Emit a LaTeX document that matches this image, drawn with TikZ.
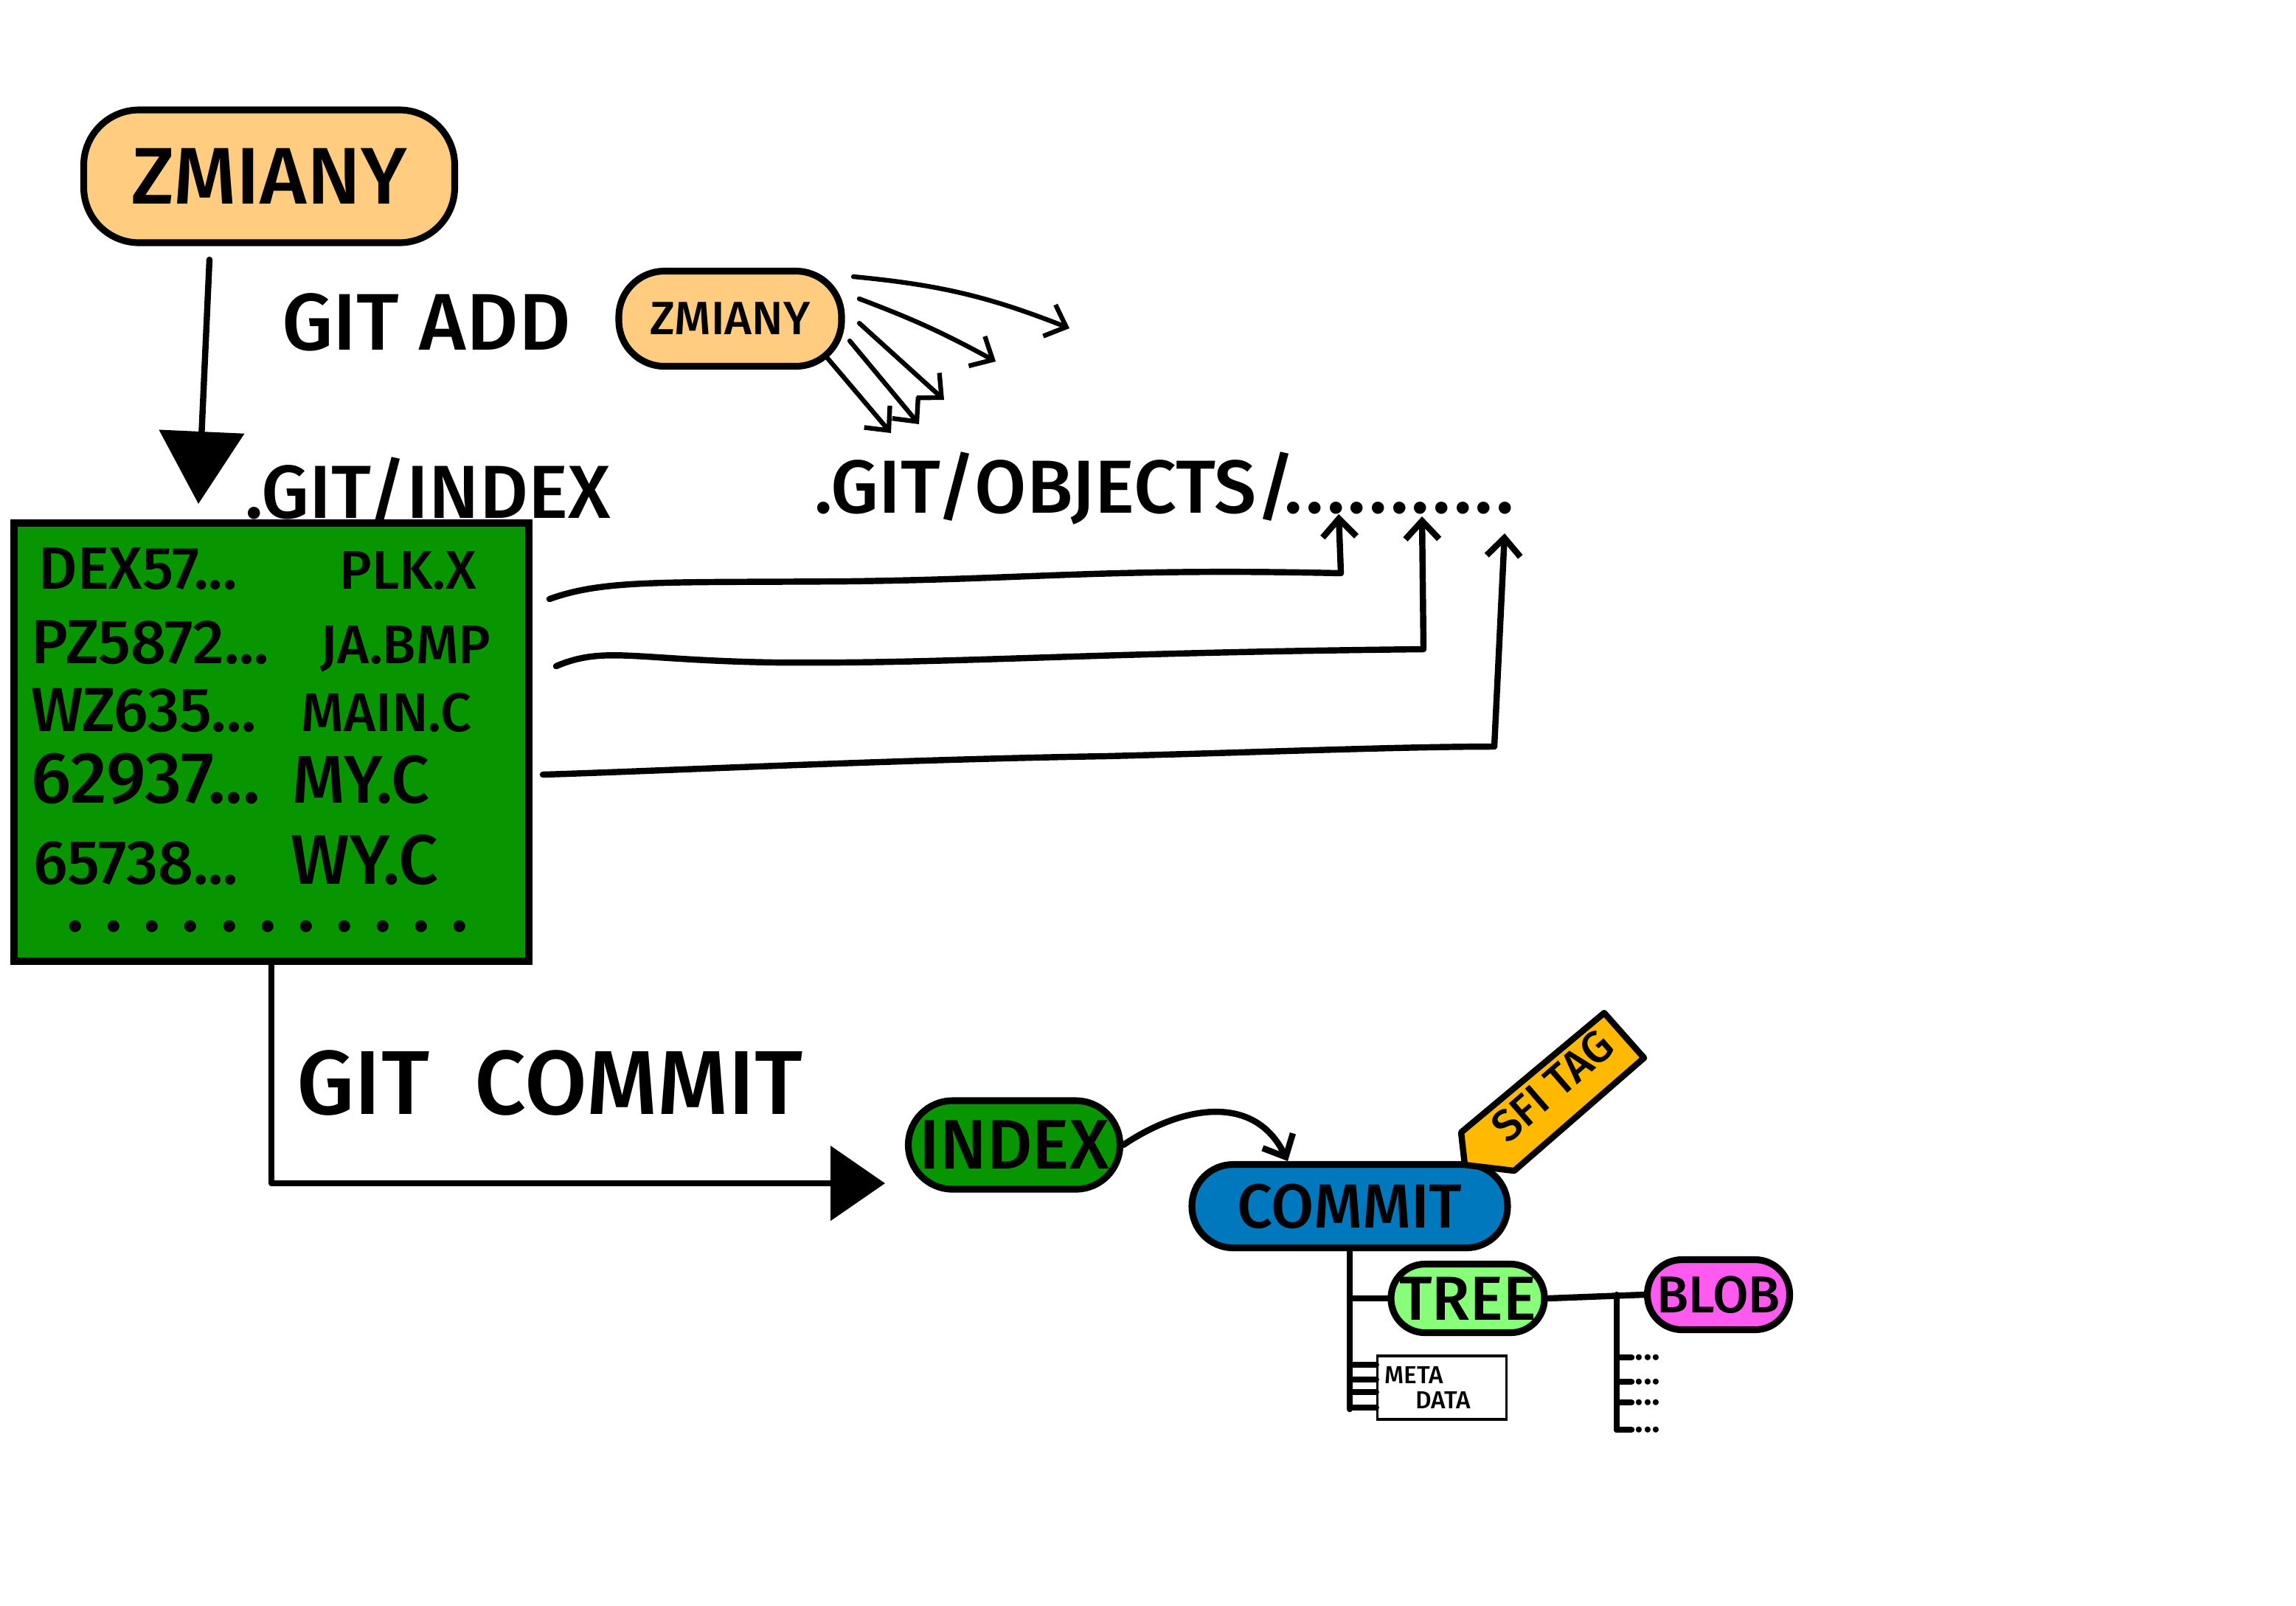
\documentclass[tikz,border=0pt]{standalone}
\usepackage{fontspec}
\setmainfont{Fira Sans}[UprightFont=* Medium]
\usetikzlibrary{positioning, arrows.meta}
\definecolor{zmianyfill}{RGB}{255,204,128}
\definecolor{indexgreen}{RGB}{7,150,0}
\definecolor{commitblue}{RGB}{0,120,190}
\definecolor{treegreen}{RGB}{136,255,120}
\definecolor{blobpink}{RGB}{255,90,240}
\definecolor{tagyellow}{RGB}{255,185,0}
\newcommand{\fs}[1]{\fontsize{#1}{#1}\selectfont}
\newcommand{\dotgap}{\hspace{2.85mm}}
\newcommand{\pdot}{.\hspace{1.2pt}}
\tikzset{
  blob/.style={draw, line width=2.6pt, rounded corners=#1, inner sep=0pt},
  blob/.default=0.5cm,
  link/.style={line width=2.4pt, line cap=round, line join=round},
  barb/.style={-{Straight Barb[length=7pt,width=13pt]}},
}

\begin{document}
\begin{tikzpicture}
		\useasboundingbox (0,0) rectangle (31.13,-21.76);

		\node (zmiany) [blob=0.75cm, fill=zmianyfill, minimum width=5.03cm, minimum height=1.8cm, font=\fs{31}] at (3.65,-2.39) {ZMIANY};
		\coordinate (addtop) at (2.84,-3.52);
		\coordinate (addtip) at (2.69,-6.83);
		\draw[link, -{Triangle[length=0.98cm,width=1.14cm]}] (addtop) to (addtip);
		\node (gitadd) [anchor=base west, font=\fs{31}] at (3.7,-4.74) {GIT ADD};
		\node (zsmall) [blob=0.62cm, fill=zmianyfill, minimum width=3.02cm, minimum height=1.29cm, font=\fs{18}] at (9.9,-4.32) {ZMIANY};

		% git add -> objects
		\coordinate (a1) at (11.57,-3.75); \coordinate (f1) at (14.5,-4.45);
		\coordinate (a2) at (11.65,-4.05); \coordinate (f2) at (13.5,-4.9);
		\coordinate (a3) at (11.65,-4.38); \coordinate (f3) at (12.8,-5.42);
		\coordinate (a4) at (11.52,-4.62); \coordinate (f4) at (12.46,-5.75);
		\coordinate (a5) at (11.19,-4.82); \coordinate (f5) at (12.08,-5.87);
		\draw[link, line width=1.8pt, barb] (a1) to[bend left=8] (f1);
		\draw[link, line width=1.8pt, barb] (a2) to[bend left=4] (f2);
		\draw[link, line width=1.8pt, barb] (a3) to (f3);
		\draw[link, line width=1.8pt, barb] (a4) to (f4);
		\draw[link, line width=1.8pt, barb] (a5) to (f5);

		\node (gitindex) [anchor=base west, font=\fs{29}] at (3.2,-7.02) {.GIT/INDEX};
		\node (objects) [anchor=base west, font=\fs{29}] at (10.92,-6.95) {.GIT/OBJECTS/\pdot\pdot\pdot\pdot\pdot\pdot\pdot\pdot\pdot\pdot.};

		% index
		\node (index) [draw, fill=indexgreen, line width=3pt, minimum width=6.98cm, minimum height=5.94cm] at (3.68,-10.06) {};
		\node (h1) [anchor=base west, font=\fs{23}, inner sep=0pt] at (0.52,-7.98) {DEX57...};
		\node (h2) [anchor=base west, font=\fs{24}, inner sep=0pt] at (0.42,-8.99) {PZ5872...};
		\node (h3) [anchor=base west, font=\fs{24}, inner sep=0pt] at (0.42,-9.91) {WZ635...};
		\node (h4) [anchor=base west, font=\fs{28}, inner sep=0pt] at (0.42,-10.88) {62937...};
		\node (h5) [anchor=base west, font=\fs{24}, inner sep=0pt] at (0.45,-11.98) {65738...};
		\node (n1) [anchor=base west, font=\fs{21}, inner sep=0pt] at (4.6,-7.98) {PLK.X};
		\node (n2) [anchor=base west, font=\fs{21}, inner sep=0pt] at (4.34,-8.99) {JA.BMP};
		\node (n3) [anchor=base west, font=\fs{21}, inner sep=0pt] at (4.08,-9.91) {MAIN.C};
		\node (n4) [anchor=base west, font=\fs{26}, inner sep=0pt] at (3.96,-10.88) {MY.C};
		\node (n5) [anchor=base west, font=\fs{27}, inner sep=0pt] at (3.94,-11.98) {WY.C};
		\node (more) [anchor=base west, font=\fs{28}, inner sep=0pt] at (0.9,-12.62) {.\dotgap.\dotgap.\dotgap.\dotgap.\dotgap.\dotgap.\dotgap.\dotgap.\dotgap.\dotgap.};

		\coordinate (s1) at (7.45,-8.12);
		\coordinate (s2) at (7.54,-9.03);
		\coordinate (s3) at (7.36,-10.5);
		\coordinate (t1) at (18.15,-6.97);
		\coordinate (t2) at (19.28,-7.0);
		\coordinate (t3) at (20.4,-7.23);
		\draw[link, barb] (s1) .. controls (8.2,-7.85) and (9,-7.9) .. (11.5,-7.88) .. controls (14,-7.85) and (15,-7.7) .. (18.18,-7.77) -- (t1);
		\draw[link, barb] (s2) .. controls (8.2,-8.75) and (8.6,-8.95) .. (10.5,-8.98) .. controls (13,-9.0) and (14.5,-8.85) .. (19.3,-8.8) -- (t2);
		\draw[link, barb] (s3) .. controls (9,-10.45) and (12,-10.3) .. (15,-10.25) .. controls (17,-10.2) and (19,-10.12) .. (20.26,-10.12) -- (t3);

		% commit
		\coordinate (commitend) at (12.0,-16.04);
		\draw[link, -{Triangle[length=0.74cm,width=1cm]}] (index.south) |- (commitend);
		\node (gitcommit) [anchor=base west, font=\fs{35}] at (3.9,-15.1) {GIT\ \ COMMIT};

		\node (indexobj) [blob=0.6cm, fill=indexgreen, minimum width=2.87cm, minimum height=1.2cm, font=\fs{27}] at (13.75,-15.52) {INDEX};
		\node (commit) [blob=0.56cm, fill=commitblue, minimum width=4.28cm, minimum height=1.13cm, font=\fs{24}] at (18.3,-16.35) {COMMIT};
		\draw[link, barb] (indexobj.east) .. controls (16,-15.0) and (17,-14.8) .. (commit.144);

		% tag
		\filldraw[fill=tagyellow, line width=2.4pt, line join=round] (19.81,-15.35) -- (21.75,-13.73) -- (22.29,-14.34) -- (20.53,-15.87) -- (19.86,-15.79) -- cycle;
		\node (tag) [rotate=41, font=\fs{17}, inner sep=0pt] at (21.05,-14.72) {SFI TAG};

		% tree
		\node (tree) [blob=0.46cm, fill=treegreen, minimum width=2.08cm, minimum height=0.93cm, font=\fs{24}] at (19.9,-17.6) {TREE};
		\node (blob) [blob=0.47cm, fill=blobpink, minimum width=1.93cm, minimum height=0.95cm, font=\fs{20}] at (23.3,-17.55) {BLOB};
		\node (meta) [draw, fill=white, line width=1pt, minimum width=1.75cm, minimum height=0.86cm, text width=1.55cm, align=left, inner sep=1pt, font=\fs{9.5}] at (19.55,-18.81) {META\\\hspace{0.42cm}DATA};
		\draw[link] (commit.south) -- (commit.south |- 0,-19.1);
		\draw[link] (commit.south |- tree.west) -- (tree.west);
		\draw[link] (commit.south |- 0,-18.5) -- (meta.west |- 0,-18.5); \draw[link] (commit.south |- 0,-18.7) -- (meta.west |- 0,-18.7);
		\draw[link] (commit.south |- 0,-18.87) -- (meta.west |- 0,-18.87); \draw[link] (commit.south |- 0,-19.08) -- (meta.west |- 0,-19.08);
		\draw[link] (tree.east) -- (blob.west);

		\coordinate (fork) at (21.92,-17.55);
		\node (l1) [anchor=west, font=\fs{14}, inner sep=1pt] at (22.12,-18.40) {...};
		\node (l2) [anchor=west, font=\fs{14}, inner sep=1pt] at (22.12,-18.73) {...};
		\node (l3) [anchor=west, font=\fs{14}, inner sep=1pt] at (22.12,-19.01) {...};
		\node (l4) [anchor=west, font=\fs{14}, inner sep=1pt] at (22.12,-19.38) {...};
		\draw[link] (fork) -- (fork |- l4);
		\draw[link] (fork |- l1) -- (l1.west); \draw[link] (fork |- l2) -- (l2.west);
		\draw[link] (fork |- l3) -- (l3.west); \draw[link] (fork |- l4) -- (l4.west);

		\end{tikzpicture}
\end{document}
